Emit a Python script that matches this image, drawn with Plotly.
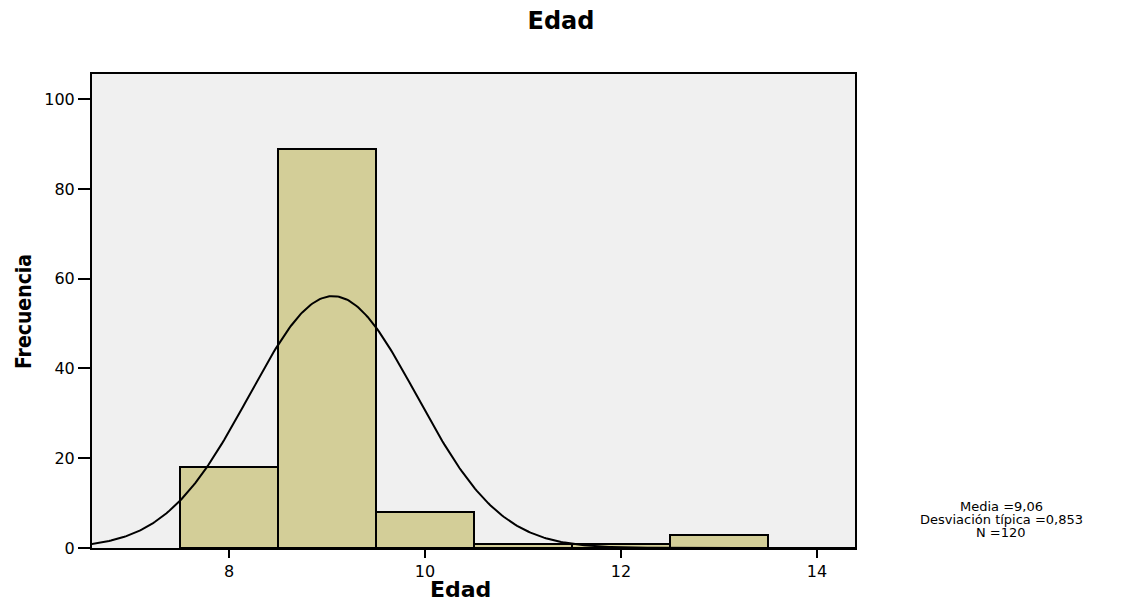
import numpy as np
import plotly.graph_objects as go

# Data
edad = [8, 9, 10, 11, 12, 13]
frecuencia = [18, 89, 8, 1, 1, 3]
media = 9.06
desv = 0.853
n_total = 120
bin_width = 1.0
stats_lines = ["Media =9,06", "Desviación típica =0,853", "N =120"]

# Normal curve derived from the stated statistics
xs = np.linspace(6.6, 14.4, 400)
ys = n_total * bin_width / (desv * np.sqrt(2 * np.pi)) * np.exp(-0.5 * ((xs - media) / desv) ** 2)

fig = go.Figure()
fig.add_trace(go.Bar(
    x=edad, y=frecuencia, width=bin_width,
    marker=dict(color="#D3CE98", line=dict(color="black", width=2)),
    showlegend=False, hoverinfo="x+y",
))
fig.add_trace(go.Scatter(
    x=xs, y=ys, mode="lines",
    line=dict(color="black", width=2),
    showlegend=False, hoverinfo="skip",
))

W, H = 1125, 603
L, R, T, B = 92, 270, 74, 55
plot_w = W - L - R
plot_h = H - T - B

font_family = "DejaVu Sans, Verdana, sans-serif"

def px_x(p):
    return (p - L) / plot_w

def px_y(p):
    return (H - B - p) / plot_h

fig.update_layout(
    width=W, height=H,
    margin=dict(l=L, r=R, t=T, b=B, autoexpand=False),
    paper_bgcolor="white",
    plot_bgcolor="#F0F0F0",
    font=dict(family=font_family, size=16, color="black"),
    title=dict(text="<b>Edad</b>", x=561 / W, xanchor="center", xref="container",
               yref="container", y=1 - 21 / H, yanchor="middle",
               font=dict(size=24, family=font_family)),
    bargap=0,
    xaxis=dict(
        range=[6.602, 14.388], tickvals=[8, 10, 12, 14],
        ticks="outside", ticklen=8, tickwidth=2, tickcolor="black",
        showline=True, linecolor="black", linewidth=2, mirror=True,
        showgrid=False, zeroline=False, automargin=False,
        tickfont=dict(size=16, family=font_family),
    ),
    yaxis=dict(
        range=[0, 105.6], tickvals=[0, 20, 40, 60, 80, 100],
        ticks="outside", ticklen=12, tickwidth=2, tickcolor="black",
        showline=True, linecolor="black", linewidth=2, mirror=True,
        showgrid=False, zeroline=False, automargin=False,
        tickfont=dict(size=16, family=font_family),
    ),
)

# axis titles
fig.add_annotation(
    text="<b>Edad</b>", x=px_x(460), y=px_y(589), xref="paper", yref="paper",
    showarrow=False, xanchor="center", yanchor="middle",
    font=dict(size=22, family=font_family),
)
fig.add_annotation(
    text="<b>Frecuencia</b>", x=px_x(24), y=px_y(312), xref="paper", yref="paper",
    showarrow=False, xanchor="center", yanchor="middle", textangle=-90,
    font=dict(size=21, family="Liberation Sans Narrow, DejaVu Sans Condensed, Arial Narrow, sans-serif"),
)

# statistics text box, one annotation per line for tight spacing
for i, line in enumerate(stats_lines):
    ypix = 506 + 13 * i
    fig.add_annotation(
        text=line, x=px_x(1001), y=px_y(ypix),
        xref="paper", yref="paper", showarrow=False,
        xanchor="center", yanchor="middle",
        font=dict(size=13, family=font_family),
    )

fig.write_html("out.html", post_script="document.body.style.margin='0';",
               config={"displayModeBar": False})
